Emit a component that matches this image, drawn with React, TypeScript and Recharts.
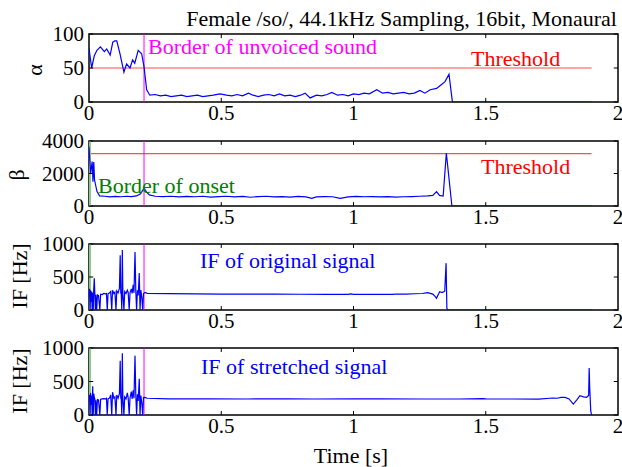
import React from 'react';
import { ComposedChart, Line, XAxis, YAxis, ReferenceLine, ReferenceArea } from 'recharts';

const timeTicks = [0, 0.5, 1, 1.5, 2];
const alphaTicks = [0, 50, 100];
const betaTicks = [0, 2000, 4000];
const ifTicks = [0, 500, 1000];

const alphaThreshold = 50;
const betaThreshold = 3220;
const thresholdEnd = 1.9;
const unvoicedBorder = 0.208;
const onsetBorder = 0.004;

// alpha (panel 1)
const alphaT = [
  0, 0.01, 0.02, 0.03, 0.043, 0.058, 0.067, 0.08, 0.09, 0.098,
  0.105, 0.117, 0.132, 0.142, 0.155, 0.165, 0.173, 0.186, 0.199, 0.208,
  0.218, 0.23, 0.25, 0.27, 0.29, 0.31, 0.33, 0.35, 0.37, 0.39,
  0.41, 0.43, 0.45, 0.47, 0.495, 0.52, 0.54, 0.56, 0.58, 0.603,
  0.62, 0.64, 0.66, 0.68, 0.7, 0.72, 0.74, 0.76, 0.78, 0.8,
  0.817, 0.836, 0.86, 0.88, 0.9, 0.918, 0.94, 0.96, 0.98, 1.0,
  1.02, 1.04, 1.06, 1.088, 1.11, 1.13, 1.15, 1.17, 1.19, 1.21,
  1.23, 1.251, 1.27, 1.29, 1.314, 1.327, 1.346, 1.361, 1.374, 1.9,
];
const alphaV = [
  79, 50, 68, 76, 81, 74, 78, 69, 88, 90,
  90, 71, 44, 56, 50, 62, 57, 76, 71, 52,
  18, 10, 11, 9, 10, 8, 9, 10, 8, 9,
  10, 8, 9, 10, 12, 10, 9, 11, 9, 13,
  10, 8, 10, 11, 9, 12, 9, 10, 8, 10,
  13, 6, 10, 9, 11, 14, 10, 11, 9, 12,
  11, 13, 12, 18, 13, 14, 12, 13, 14, 12,
  13, 17, 13, 18, 20, 24, 30, 41, 0, 0,
];

// beta (panel 2)
const betaT = [
  0, 0.006, 0.012, 0.015, 0.018, 0.021, 0.03, 0.04, 0.06, 0.08,
  0.1, 0.12, 0.14, 0.16, 0.18, 0.195, 0.208, 0.218, 0.228, 0.25,
  0.28, 0.31, 0.34, 0.37, 0.4, 0.43, 0.46, 0.49, 0.52, 0.55,
  0.58, 0.61, 0.64, 0.67, 0.7, 0.73, 0.76, 0.79, 0.82, 0.842,
  0.86, 0.89, 0.92, 0.95, 0.98, 1.01, 1.04, 1.07, 1.1, 1.13,
  1.16, 1.19, 1.22, 1.25, 1.28, 1.3, 1.314, 1.325, 1.339, 1.351,
  1.372, 1.9,
];
const betaV = [
  3650, 2000, 2730, 1500, 2700, 1600, 900, 620, 600, 560,
  590, 570, 600, 580, 620, 750, 1090, 850, 680, 600,
  580, 600, 560, 590, 570, 600, 550, 580, 600, 560,
  590, 540, 580, 600, 560, 580, 550, 590, 560, 470,
  560, 580, 570, 470, 560, 590, 570, 580, 560, 580,
  550, 570, 580, 600, 620, 650, 880, 650, 615, 3260,
  0, 0,
];

// IF of original signal (panel 3)
const ifOrigT = [
  0, 0.002, 0.004, 0.006, 0.008, 0.01, 0.012, 0.014, 0.016, 0.018,
  0.02, 0.022, 0.024, 0.026, 0.029, 0.032, 0.036, 0.041, 0.044, 0.05,
  0.056, 0.062, 0.066, 0.069, 0.072, 0.078, 0.082, 0.086, 0.089, 0.094,
  0.098, 0.102, 0.105, 0.11, 0.115, 0.118, 0.12, 0.122, 0.124, 0.126,
  0.128, 0.132, 0.135, 0.14, 0.145, 0.148, 0.152, 0.155, 0.16, 0.163,
  0.167, 0.17, 0.174, 0.177, 0.18, 0.183, 0.186, 0.19, 0.193, 0.196,
  0.2, 0.203, 0.206, 0.212, 0.22, 0.3, 0.4, 0.5, 0.6, 0.7,
  0.8, 0.9, 0.98, 0.99, 1.0, 1.1, 1.15, 1.16, 1.2, 1.23,
  1.26, 1.28, 1.3, 1.31, 1.314, 1.32, 1.326, 1.335, 1.345, 1.35,
  1.353, 1.356, 1.904,
];
const ifOrigV = [
  200, 320, 0, 300, 120, 280, 0, 260, 0, 330,
  480, 250, 0, 230, 0, 230, 220, 0, 240, 235,
  250, 245, 250, 0, 245, 260, 280, 0, 300, 250,
  270, 0, 290, 260, 330, 830, 260, 240, 0, 910,
  250, 0, 280, 250, 300, 270, 0, 260, 320, 250,
  380, 260, 880, 280, 0, 300, 220, 560, 0, 300,
  180, 0, 250, 265, 252, 248, 245, 242, 241, 240,
  239, 238, 236, 243, 238, 238, 236, 242, 240, 246,
  250, 262, 240, 200, 177, 230, 277, 265, 285, 710,
  25, 0, 0,
];

// IF of stretched signal (panel 4)
const ifStretT = [
  0, 0.002, 0.004, 0.006, 0.008, 0.01, 0.012, 0.014, 0.016, 0.018,
  0.02, 0.022, 0.024, 0.026, 0.029, 0.032, 0.036, 0.041, 0.044, 0.05,
  0.056, 0.062, 0.066, 0.069, 0.072, 0.078, 0.082, 0.086, 0.089, 0.094,
  0.098, 0.102, 0.105, 0.11, 0.115, 0.118, 0.12, 0.122, 0.124, 0.126,
  0.128, 0.132, 0.135, 0.14, 0.145, 0.148, 0.152, 0.155, 0.16, 0.163,
  0.167, 0.17, 0.174, 0.177, 0.18, 0.183, 0.186, 0.19, 0.193, 0.196,
  0.2, 0.203, 0.206, 0.212, 0.22, 0.3, 0.45, 0.6, 0.75, 0.85,
  1.0, 1.1, 1.25, 1.4, 1.49, 1.5, 1.55, 1.6, 1.7, 1.755,
  1.77, 1.785, 1.8, 1.815, 1.831, 1.845, 1.856, 1.87, 1.881, 1.889,
  1.891, 1.893, 1.897, 1.9,
];
const ifStretV = [
  190, 300, 0, 330, 150, 290, 0, 430, 0, 320,
  260, 240, 0, 220, 0, 230, 225, 0, 235, 240,
  245, 240, 250, 0, 240, 255, 300, 0, 340, 250,
  270, 0, 300, 250, 320, 810, 260, 230, 0, 920,
  260, 0, 270, 240, 330, 260, 0, 250, 350, 240,
  370, 250, 886, 290, 0, 310, 210, 540, 0, 290,
  170, 0, 260, 262, 250, 242, 240, 239, 241, 239,
  240, 242, 239, 239, 243, 241, 239, 239, 238, 254,
  250, 264, 262, 240, 164, 230, 289, 270, 264, 290,
  701, 413, 60, 0,
];

const zip = (ts: number[], vs: number[]) => ts.map((t, i) => ({ t, v: vs[i] }));

const FONT = '"Liberation Serif", "Times New Roman", serif';
const tickStyle = { fontSize: 21, fill: '#000', fontFamily: FONT };

interface PanelProps {
  top: number;
  height: number;
  yMax: number;
  yTicks: number[];
  series: { t: number; v: number }[];
  threshold?: number;
  onset?: boolean;
}

const Panel: React.FC<PanelProps> = ({ top, height, yMax, yTicks, series, threshold, onset }) => {
  const pad = 18;
  const tickLen = yMax * 0.06;
  const tickW = 0.016;
  return (
    <div style={{ position: 'absolute', left: 0, top: top - pad }}>
      <ComposedChart width={622} height={height + pad + 30} margin={{ top: pad, right: 4, bottom: 0, left: 0 }}>
        <XAxis type="number" dataKey="t" domain={[0, 2]} ticks={timeTicks} interval={0} allowDataOverflow
          tickLine={false} axisLine={false} tickSize={0} tickMargin={3} height={30} tick={tickStyle} />
        <YAxis type="number" domain={[0, yMax]} ticks={yTicks} interval={0} allowDataOverflow
          tickLine={false} axisLine={false} tickSize={0} tickMargin={5} width={89} tick={tickStyle} />
        {threshold !== undefined && (
          <Line data={[{ t: 0, v: threshold }, { t: thresholdEnd, v: threshold }]} dataKey="v"
            stroke="#ff4d4d" strokeWidth={1.2} dot={false} isAnimationActive={false} />
        )}
        {onset && <ReferenceLine x={onsetBorder} stroke="#8fcc8f" strokeWidth={2} />}
        <ReferenceLine x={unvoicedBorder} stroke="#ff00ff" strokeWidth={1} />
        <Line data={series} dataKey="v" type="linear" stroke="#0000ff" strokeWidth={1.2}
          dot={false} isAnimationActive={false} />
        {timeTicks.slice(1, -1).map((v) => (
          <ReferenceLine key={'b' + v} segment={[{ x: v, y: 0 }, { x: v, y: tickLen }]} stroke="#000" />
        ))}
        {timeTicks.slice(1, -1).map((v) => (
          <ReferenceLine key={'t' + v} segment={[{ x: v, y: yMax }, { x: v, y: yMax - tickLen }]} stroke="#000" />
        ))}
        {yTicks.map((v) => (
          <ReferenceLine key={'l' + v} segment={[{ x: 0, y: v }, { x: tickW, y: v }]} stroke="#000" />
        ))}
        {yTicks.map((v) => (
          <ReferenceLine key={'r' + v} segment={[{ x: 2, y: v }, { x: 2 - tickW, y: v }]} stroke="#000" />
        ))}
        <ReferenceArea x1={0} x2={2} y1={0} y2={yMax} fill="none" fillOpacity={0} stroke="#000" strokeWidth={1.5} />
      </ComposedChart>
    </div>
  );
};

const txt = { fontFamily: FONT, fontSize: 22 };

export default function App() {
  return (
    <div style={{ position: 'absolute', left: 0, top: 0, width: 622, height: 467, background: '#fff' }}>
      <Panel top={34} height={68} yMax={100} yTicks={alphaTicks} series={zip(alphaT, alphaV)} threshold={alphaThreshold} />
      <Panel top={141} height={65} yMax={4000} yTicks={betaTicks} series={zip(betaT, betaV)} threshold={betaThreshold} onset />
      <Panel top={244} height={66} yMax={1000} yTicks={ifTicks} series={zip(ifOrigT, ifOrigV)} onset />
      <Panel top={348} height={67} yMax={1000} yTicks={ifTicks} series={zip(ifStretT, ifStretV)} onset />
      <svg width={622} height={467} style={{ position: 'absolute', left: 0, top: 0, pointerEvents: 'none' }}>
        <text x={617} y={26} textAnchor="end" style={txt} fill="#000">Female /so/, 44.1kHz Sampling, 16bit, Monaural</text>
        <text x={148} y={54} style={txt} fill="#ff00ff">Border of unvoiced sound</text>
        <text x={471} y={65.5} style={txt} fill="#ff0000">Threshold</text>
        <text x={481} y={174} style={txt} fill="#ff0000">Threshold</text>
        <text x={98} y={192.5} style={txt} fill="#008000">Border of onset</text>
        <text x={200} y={268} style={txt} fill="#0000ff">IF of original signal</text>
        <text x={201} y={374} style={txt} fill="#0000ff">IF of stretched signal</text>
        <text x={351} y={463} textAnchor="middle" style={txt} fill="#000">Time [s]</text>
        <text x={41.5} y={70} textAnchor="middle" transform="rotate(-90 41.5 70)" style={txt} fill="#000">α</text>
        <text x={24} y={175} textAnchor="middle" transform="rotate(-90 24 175)" style={txt} fill="#000">β</text>
        <text x={26.5} y={276} textAnchor="middle" transform="rotate(-90 26.5 276)" style={txt} fill="#000">IF [Hz]</text>
        <text x={26.5} y={381} textAnchor="middle" transform="rotate(-90 26.5 381)" style={txt} fill="#000">IF [Hz]</text>
      </svg>
    </div>
  );
}
